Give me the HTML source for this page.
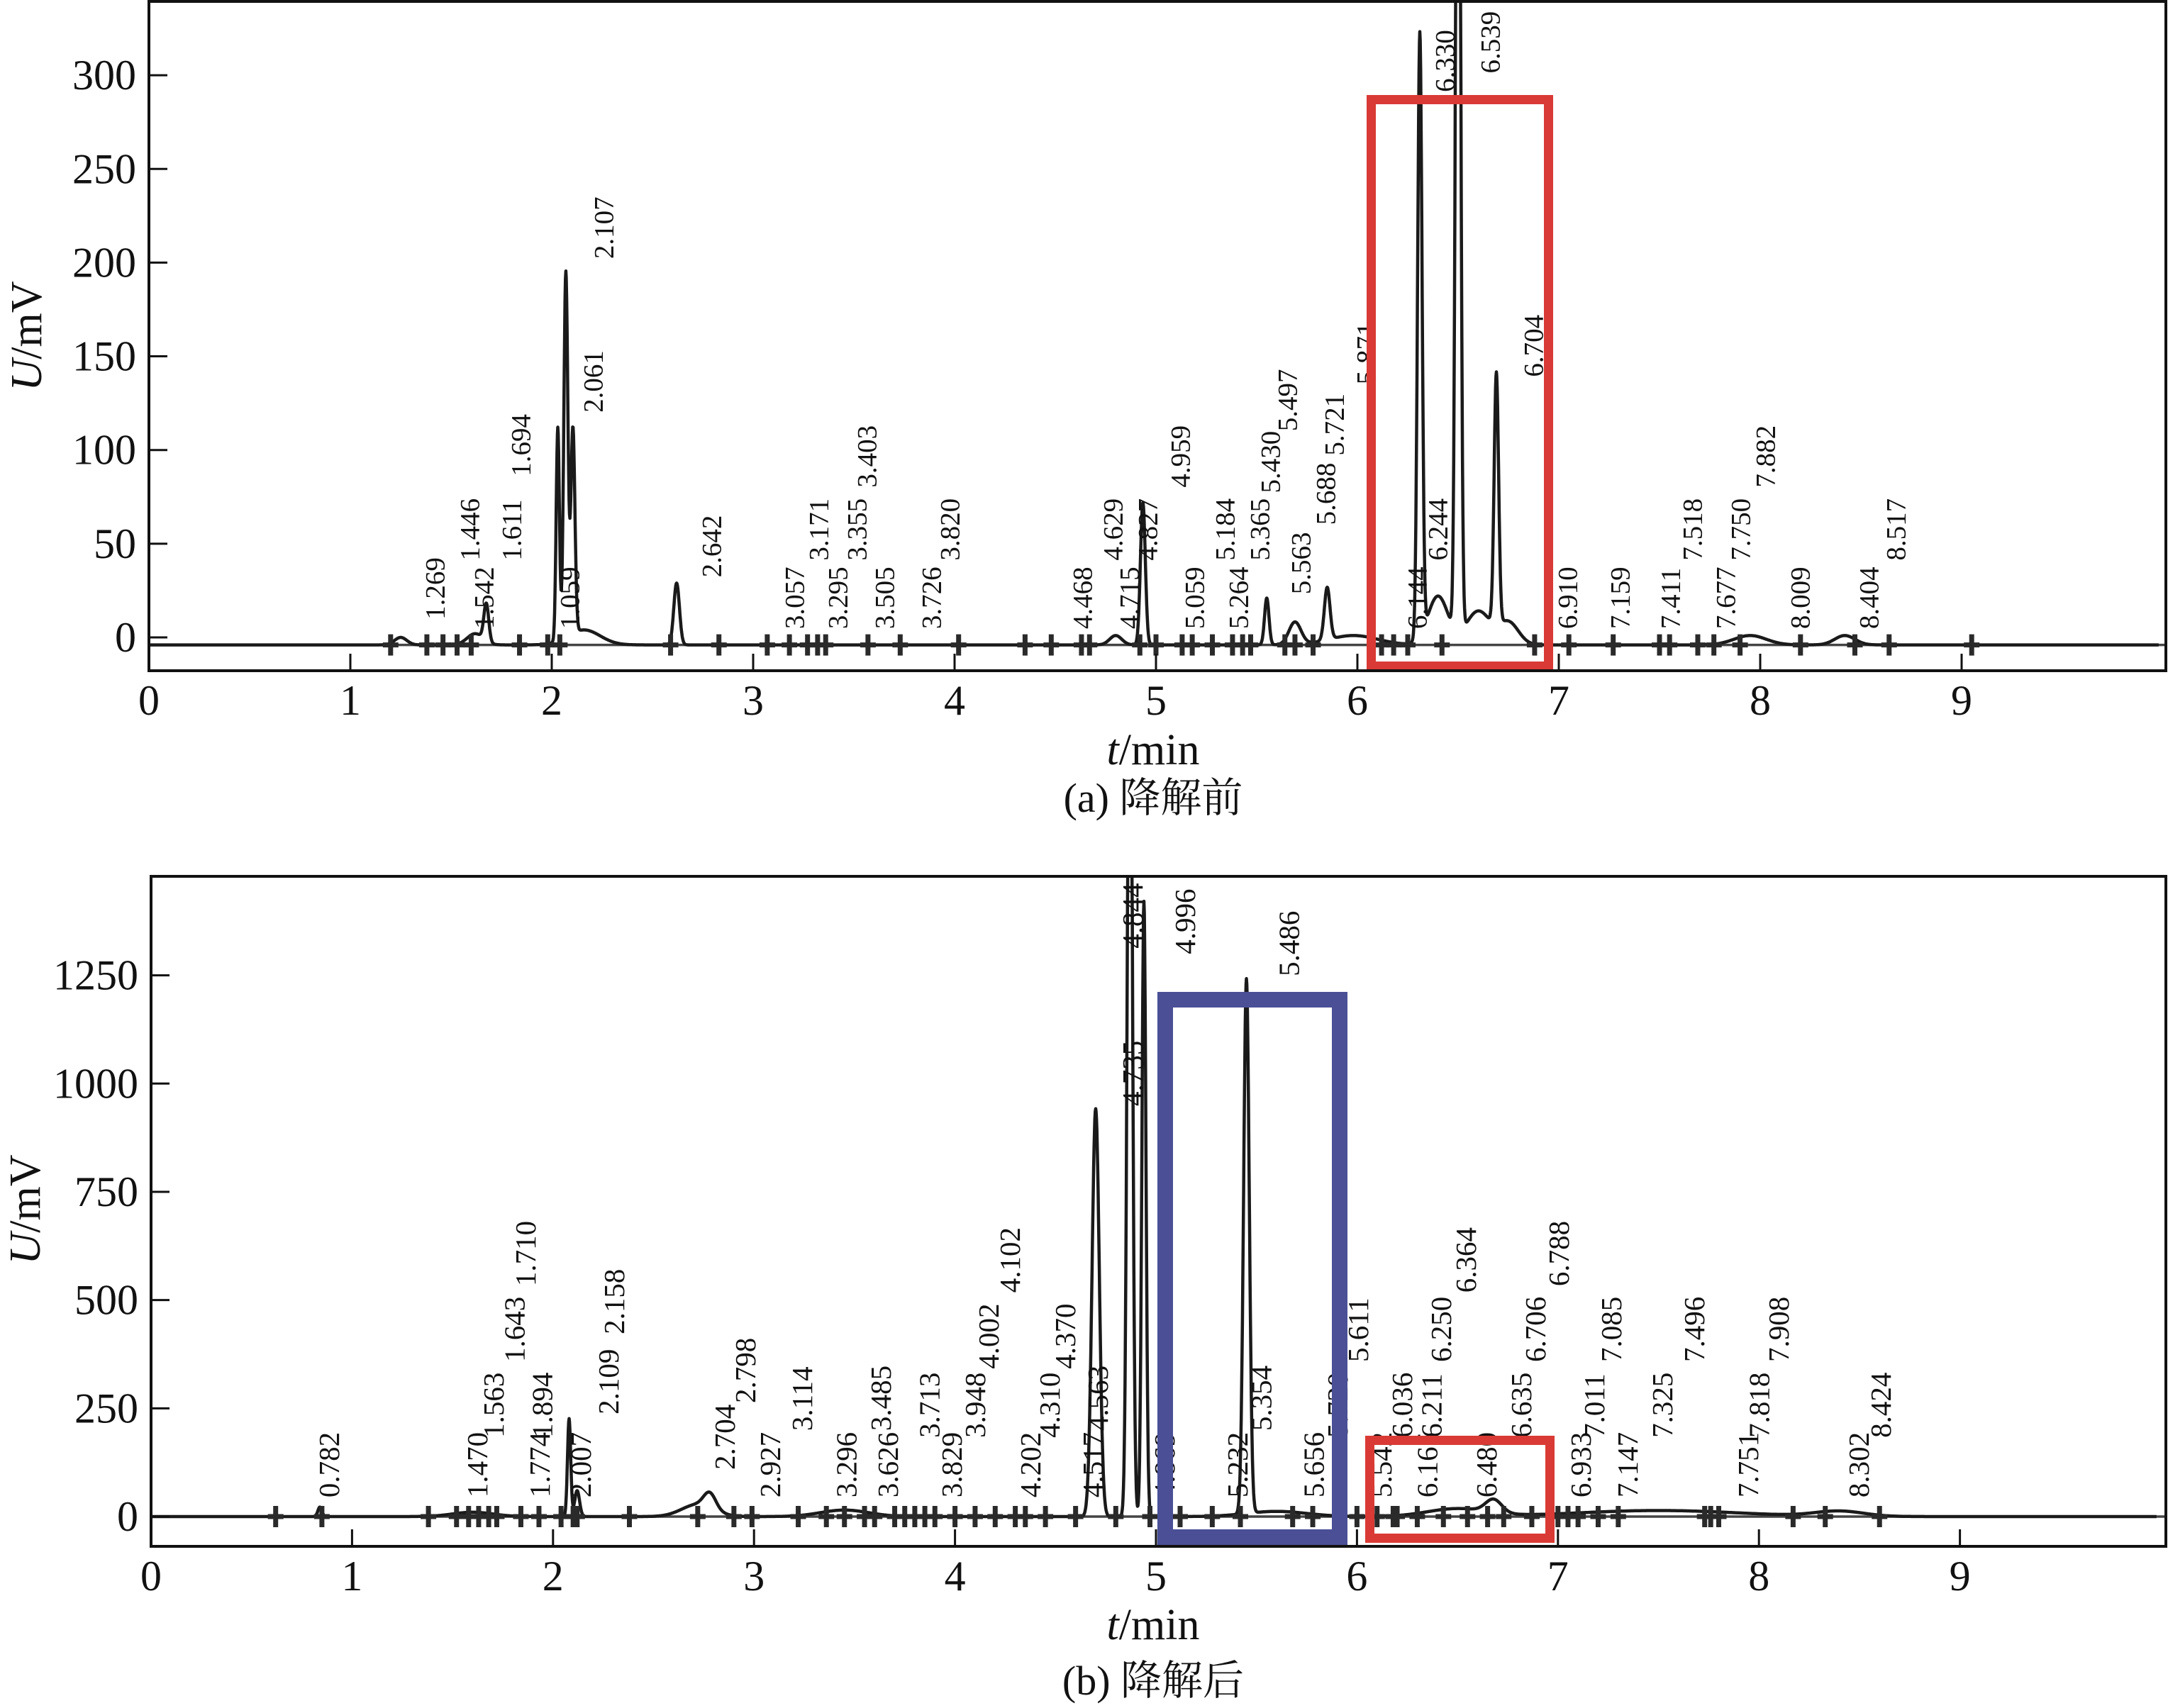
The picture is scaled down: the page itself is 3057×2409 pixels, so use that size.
<!DOCTYPE html>
<html><head><meta charset="utf-8"><style>
html,body{margin:0;padding:0;background:#fff}
svg{display:block}
text{font-family:"Liberation Serif","Noto Serif CJK SC",serif;fill:#111}
</style></head><body>
<svg id="chart" width="3057" height="2409" viewBox="0 0 3057 2409"></svg>
<script>
// ---------- Panel (a) data ----------
const aTicksX=[0,1,2,3,4,5,6,7,8,9];
const aTicksY=[0,50,100,150,200,250,300];
const aPeakT=[1.25,1.62,1.675,2.03,2.07,2.105,2.16,2.62,4.80,4.935,5.55,5.69,5.85,5.98,6.31,6.40,6.50,6.60,6.69,6.75,7.95,8.42];
const aPeakH=[4,6,20,114,195,110,8,33,5,76,25,12,28,5,322,26,650,18,134,12,5,5];
const aPeakW=[0.03,0.04,0.012,0.008,0.01,0.01,0.08,0.014,0.03,0.012,0.011,0.03,0.014,0.12,0.011,0.05,0.011,0.06,0.011,0.05,0.08,0.05];
const aLabels=["1.269","1.446","1.542","1.611","1.694","2.107","2.061","1.059","2.642","3.057","3.171","3.295","3.355","3.403","3.505","3.726","3.820","4.468","4.629","4.715","4.827","4.959","5.059","5.184","5.264","5.365","5.430","5.497","5.563","5.688","5.721","5.871","6.144","6.244","6.330","6.539","6.704","6.910","7.159","7.411","7.518","7.677","7.750","7.882","8.009","8.404","8.517"];
const aLabelT=[1.408,1.581,1.651,1.789,1.835,2.246,2.194,2.077,2.782,3.194,3.313,3.408,3.504,3.553,3.641,3.873,3.965,4.623,4.775,4.856,4.947,5.109,5.180,5.331,5.398,5.504,5.556,5.641,5.708,5.831,5.873,6.032,6.285,6.387,6.423,6.648,6.863,7.032,7.292,7.542,7.651,7.817,7.891,8.014,8.187,8.528,8.662];
const aLabelV=[9.5,41,4.5,41,86,202,120,4.5,32,4.5,41,4.5,41,80,4.5,4.5,41,4.5,41,4.5,41,80,4.5,41,4.5,41,77,110,23,60,97,135,4.5,41,291,301,139,4.5,4.5,4.5,41,4.5,41,80,4.5,4.5,41];
const aMarks=[1.2,1.38,1.46,1.53,1.6,1.84,1.98,2.04,2.59,2.83,3.07,3.18,3.27,3.32,3.36,3.57,3.73,4.02,4.35,4.48,4.63,4.67,4.92,5.0,5.13,5.18,5.28,5.38,5.43,5.47,5.64,5.69,5.78,6.12,6.18,6.25,6.42,6.88,7.05,7.27,7.5,7.55,7.69,7.77,7.9,8.2,8.47,8.64,9.05];
// ---------- Panel (b) data ----------
const bTicksX=[0,1,2,3,4,5,6,7,8,9];
const bTicksY=[0,250,500,750,1000,1250];
const bPeakT=[0.84,1.6,2.08,2.12,2.72,2.78,3.45,4.70,4.87,4.94,5.45,5.6,6.5,6.68,7.5,8.4];
const bPeakH=[22,10,226,60,28,35,15,942,2300,1421,1235,12,18,30,14,12];
const bPeakW=[0.01,0.1,0.008,0.012,0.08,0.03,0.12,0.018,0.012,0.01,0.014,0.15,0.15,0.04,0.4,0.12];
const bLabels=["0.782","1.470","1.563","1.643","1.710","1.774","1.894","2.007","2.109","2.158","2.704","2.798","2.927","3.114","3.296","3.485","3.626","3.713","3.829","3.948","4.002","4.102","4.202","4.310","4.370","4.517","4.563","4.735","4.844","4.869","4.996","5.232","5.354","5.486","5.656","5.720","5.611","5.542","6.036","6.165","6.211","6.250","6.364","6.480","6.635","6.706","6.788","6.933","7.011","7.085","7.147","7.325","7.496","7.751","7.818","7.908","8.302","8.424"];
const bLabelT=[0.872,1.609,1.690,1.794,1.849,1.919,1.932,2.124,2.262,2.290,2.840,2.943,3.066,3.225,3.446,3.617,3.652,3.858,3.970,4.086,4.153,4.259,4.361,4.457,4.534,4.672,4.697,4.870,4.870,5.028,5.131,5.392,5.510,5.648,5.771,5.889,5.991,6.108,6.211,6.336,6.357,6.405,6.528,6.630,6.803,6.873,6.990,7.100,7.167,7.251,7.333,7.505,7.664,7.932,7.987,8.084,8.483,8.592];
const bLabelV=[44,44,182,357,532,44,182,44,236,421,108,262,44,198,44,198,44,182,44,182,341,517,44,182,341,44,198,948,1312,44,1299,44,198,1248,44,182,357,44,182,44,182,357,517,44,182,357,532,44,182,357,44,182,357,44,182,357,44,182];
const bMarks=[0.62,0.85,1.38,1.52,1.58,1.63,1.68,1.72,1.84,1.93,2.04,2.1,2.12,2.38,2.72,2.9,2.99,3.22,3.36,3.45,3.55,3.6,3.7,3.75,3.8,3.85,3.9,4.0,4.1,4.2,4.3,4.35,4.45,4.6,4.8,4.97,5.12,5.28,5.42,5.68,5.78,6.0,6.1,6.18,6.2,6.3,6.43,6.55,6.65,6.73,6.87,7.0,7.05,7.1,7.2,7.3,7.73,7.76,7.8,8.17,8.33,8.6];

const NS="http://www.w3.org/2000/svg";
const svg=document.getElementById('chart');
function mk(tag,attrs,parent){const e=document.createElementNS(NS,tag);for(const k in attrs)e.setAttribute(k,attrs[k]);(parent||svg).appendChild(e);return e;}

function panel(cfg){
  const g=mk('g',{});
  
  
  const X=t=>cfg.x0+cfg.sx*t;
  const Y=v=>cfg.y0-cfg.sy*v;
  const clipId=cfg.name+'-clip';
  const cp=mk('clipPath',{id:clipId},g);
  mk('rect',{x:cfg.L,y:cfg.T,width:cfg.R-cfg.L,height:cfg.B-cfg.T},cp);
  const bl=mk('line',{x1:cfg.L,x2:cfg.R,y1:Y(cfg.base),y2:Y(cfg.base),stroke:'#444','stroke-width':3.5},g);
  
  
  let d='';
  for(let t=cfg.tStart;t<=9.98;t+=0.002){
    let v=cfg.base;
    for(let i=0;i<cfg.pt.length;i++){const z=(t-cfg.pt[i])/cfg.pw[i];if(Math.abs(z)<8)v+=cfg.ph[i]*Math.exp(-0.5*z*z);}
    d+=(d?'L':'M')+X(t).toFixed(1)+' '+Math.max(cfg.T-20,Y(v)).toFixed(1);
  }
  const cur=mk('path',{d:d,fill:'none',stroke:'#1a1a1a','stroke-width':4.5,'stroke-linejoin':'round','clip-path':'url(#'+clipId+')'},g);
  
  
  cfg.marks.forEach(t=>{
    const m=mk('path',{d:`M${X(t)-11} ${Y(cfg.base)}H${X(t)+11}M${X(t)} ${Y(cfg.base)-15}V${Y(cfg.base)+15}`,stroke:'#2a2a2a','stroke-width':7},g);
    
    
  });
  cfg.labels.forEach((s,i)=>{
    const x=X(cfg.lt[i])+4, y=Y(cfg.lv[i]);
    const tx=mk('text',{x:x,y:y,transform:`rotate(-90 ${x} ${y})`,'font-size':cfg.lfs,'dominant-baseline':'central','clip-path':'url(#'+clipId+')'},g);
    tx.textContent=s;
    
    
  });
  cfg.boxes.forEach(b=>{
    const r=mk('rect',{x:b[0]+b[5]/2,y:b[1]+b[5]/2,width:b[2]-b[0]-b[5],height:b[3]-b[1]-b[5],fill:'none',stroke:b[4],'stroke-width':b[5]},g);
    
    
  });
  const fr=mk('rect',{x:cfg.L,y:cfg.T,width:cfg.R-cfg.L,height:cfg.B-cfg.T,fill:'none',stroke:'#111','stroke-width':4},g);
  
  
  cfg.tx.forEach(t=>{
    const l=mk('line',{x1:X(t),x2:X(t),y1:cfg.B,y2:cfg.B-24,stroke:'#111','stroke-width':3},g);
    
    
    const tl=mk('text',{x:X(t),y:cfg.B+62,'font-size':60,'text-anchor':'middle'},g);
    tl.textContent=t;
    
    
  });
  cfg.ty.forEach(v=>{
    const l=mk('line',{x1:cfg.L,x2:cfg.L+26,y1:Y(v),y2:Y(v),stroke:'#111','stroke-width':3},g);
    
    
    const tl=mk('text',{x:cfg.L-18,y:Y(v)+20,'font-size':60,'text-anchor':'end'},g);
    tl.textContent=v;
    
    
  });
  const yt=mk('text',{x:cfg.ytx,y:cfg.yty,transform:`rotate(-90 ${cfg.ytx} ${cfg.yty})`,'font-size':62,'text-anchor':'middle','dominant-baseline':'central'},g);
  yt.innerHTML='<tspan font-style="italic">U</tspan>/mV';
  
  
  const xt=mk('text',{x:1626,y:cfg.xty,'font-size':62,'text-anchor':'middle'},g);
  xt.innerHTML='<tspan font-style="italic">t</tspan>/min';
  
  
  const cap=mk('text',{x:1626,y:cfg.capy,'font-size':58,'text-anchor':'middle'},g);
  cap.textContent=cfg.caption;
  
  
}

panel({name:'panel-a-before',L:210,R:3054,T:2,B:946,x0:210,sx:284,y0:899,sy:2.643,base:-4,tStart:0,lfs:39,
  pt:aPeakT,ph:aPeakH,pw:aPeakW,marks:aMarks,labels:aLabels,lt:aLabelT,lv:aLabelV,tx:aTicksX,ty:aTicksY,
  boxes:[[1927,134,2190,946,'#d93a35',13,'red-highlight-box']],
  ytx:38,yty:474,xty:1078,capy:1145,caption:'(a) 降解前'});
panel({name:'panel-b-after',L:213,R:3054,T:1236,B:2181,x0:213,sx:283.4,y0:2139,sy:0.6107,base:0,tStart:0,lfs:41,
  pt:bPeakT,ph:bPeakH,pw:bPeakW,marks:bMarks,labels:bLabels,lt:bLabelT,lv:bLabelV,tx:bTicksX,ty:bTicksY,
  boxes:[[1632,1399,1900,2179,'#4a4f96',22,'blue-highlight-box'],[1925,2025,2192,2176,'#d93a35',13,'red-highlight-box']],
  ytx:36,yty:1706,xty:2312,capy:2390,caption:'(b) 降解后'});
</script>
</body></html>
